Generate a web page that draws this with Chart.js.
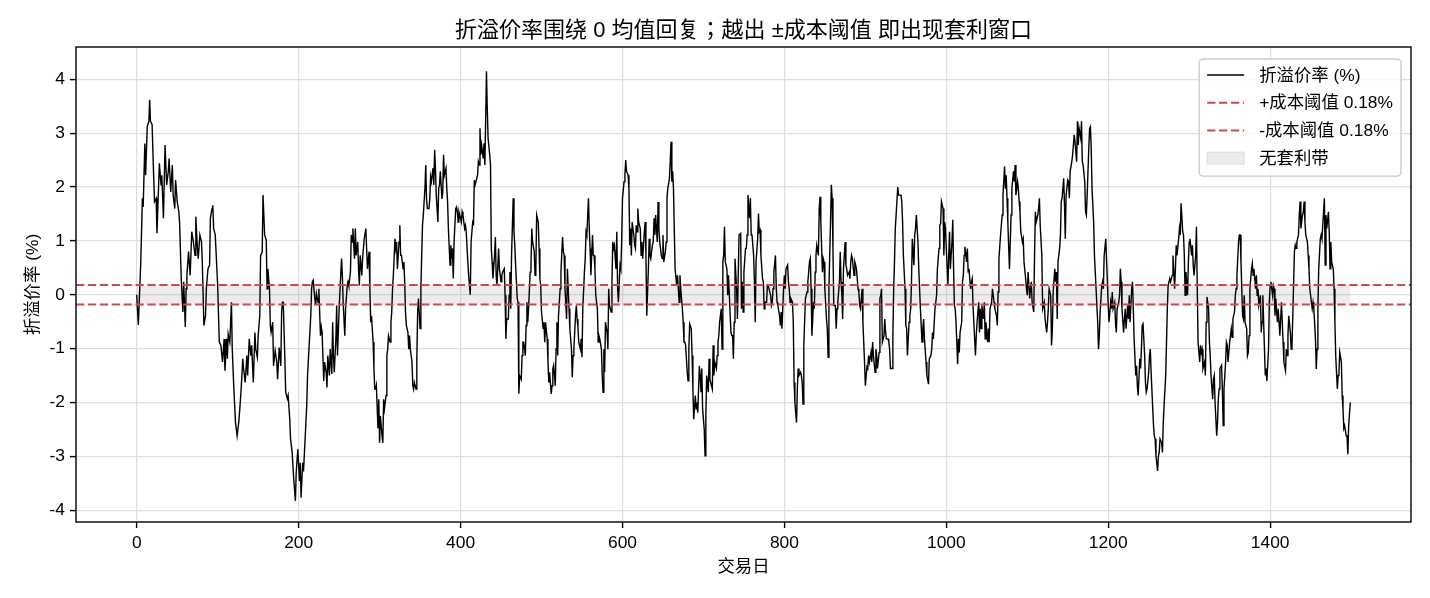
<!DOCTYPE html>
<html>
<head>
<meta charset="utf-8">
<script src="https://cdn.jsdelivr.net/npm/chart.js@4.4.1/dist/chart.umd.min.js"></script>
<style>
html,body{margin:0;padding:0;background:#fff;}
#wrap{width:1430px;height:598px;}
</style>
</head>
<body>
<div id="wrap"><canvas id="c" width="1430" height="598"></canvas></div>
<script>
// ---------- data ----------
const tradingDays = [
0,2,5,7,8,10,11,13,15,16,
17,19,21,22,24,25,28,30,31,33,
35,37,39,40,42,44,45,47,48,50,
52,53,55,57,58,60,61,62,64,66,
68,70,72,73,75,76,78,80,81,83,
85,86,88,90,91,93,94,95,97,100,
102,104,106,108,109,111,112,113,115,117,
118,120,122,124,126,127,129,
131,132,134,136,137,139,141,142,144,146,
147,149,150,152,153,155,156,158,160,161,
162,164,165,166,168,169,171,173,174,176,
178,179,180,181,183,184,186,187,189,190,
192,194,196,197,199,201,202,203,205,206,
208,210,211,213,215,216,217,218,220,221,
222,224,225,227,228,229,231,232,234,235,
236,238,239,241,242,243,244,246,247,248,
250,252,253,254,255,257,258,260,261,262,
264,265,266,267,
269,270,271,273,274,275,276,278,279,280,
281,283,284,285,287,288,289,290,292,293,
294,295,296,298,299,300,301,303,304,305,
306,308,309,310,311,313,314,315,316,317,
319,320,321,322,324,325,326,327,329,330,
331,332,333,335,336,337,338,340,341,342,
343,345,346,347,348,350,351,352,353,354,
356,357,358,359,361,362,363,364,366,367,
368,369,370,372,373,374,375,377,378,379,
380,382,383,384,385,387,388,389,390,391,
392,394,395,396,397,398,400,401,402,403,
405,406,
407,409,410,412,413,415,416,417,418,419,
421,422,423,424,425,426,428,429,430,431,
432,433,434,436,437,438,439,440,442,443,
444,445,447,448,449,450,451,452,454,455,
456,457,459,460,461,462,463,465,466,467,
468,470,471,472,473,475,476,477,478,480,
481,482,483,484,486,487,488,489,491,492,
493,494,496,497,498,499,500,502,503,504,
505,507,508,509,510,512,513,514,515,517,
518,519,520,521,523,524,526,527,528,529,
531,532,533,534,535,537,538,539,540,542,
543,544,
545,546,548,549,550,551,553,554,555,556,
558,559,560,561,563,564,565,566,567,569,
570,571,572,574,575,576,577,578,579,581,
582,583,584,586,587,588,589,590,592,593,
594,595,597,598,599,600,602,603,604,605,
607,608,609,610,611,612,614,615,616,617,
618,619,620,622,623,624,625,627,628,629,
630,632,633,634,635,637,638,639,640,641,
643,644,645,646,648,649,650,651,653,654,
655,656,658,659,660,661,662,663,664,665,
667,668,669,670,671,672,674,675,676,677,
678,680,681,682,
683,685,686,687,688,690,691,692,693,695,
696,697,698,699,701,702,703,704,706,707,
708,709,711,712,713,714,716,717,718,719,
720,722,723,724,725,726,727,729,730,731,
732,734,735,736,737,738,739,741,742,743,
744,746,747,748,749,750,752,753,754,755,
757,758,759,760,762,763,764,765,767,768,
769,770,771,773,774,775,776,778,779,780,
781,783,784,785,786,787,789,790,791,792,
794,795,796,797,799,800,801,802,804,805,
806,807,808,810,811,812,813,815,816,817,
818,820,821,
822,823,824,826,827,828,829,831,832,833,
834,836,837,838,839,840,842,843,844,845,
847,848,849,850,852,853,854,855,857,858,
859,860,861,863,864,865,866,868,869,870,
871,872,873,875,876,877,878,880,881,882,
883,884,886,887,888,889,891,892,893,894,
896,897,898,899,900,902,903,904,905,907,
908,909,910,912,913,914,915,917,918,919,
920,921,923,924,925,926,928,929,930,931,
933,934,935,936,937,939,940,941,942,944,
945,946,947,949,950,951,952,954,955,956,
957,958,
960,961,962,963,965,966,967,968,970,971,
972,973,975,976,977,978,979,981,982,983,
984,986,987,988,989,991,992,993,994,996,
997,998,999,1000,1002,1003,1004,1005,1007,1008,
1009,1010,1011,1012,1014,1015,1016,1017,1019,1020,
1021,1022,1023,1025,1026,1027,1028,1030,1031,1032,
1033,1035,1036,1037,1038,1040,1041,1042,1043,1044,
1046,1047,1048,1049,1051,1052,1053,1054,1056,1057,
1058,1059,1060,1062,1063,1064,1065,1067,1068,1069,
1070,1072,1073,1074,1075,1076,1078,1079,1080,1081,
1083,1084,1085,1086,1088,1089,1090,1091,1092,1094,
1095,1096,
1098,1099,1100,1101,1103,1104,1105,1106,1108,1109,
1110,1111,1113,1114,1115,1116,1118,1119,1120,1121,
1122,1124,1125,1126,1127,1129,1130,1131,1132,1134,
1135,1136,1137,1138,1140,1141,1142,1143,1145,1146,
1147,1148,1150,1151,1152,1153,1155,1156,1157,1158,
1159,1161,1162,1163,1164,1166,1167,1168,1169,1171,
1172,1173,1174,1176,1177,1178,1179,1180,1182,1183,
1184,1185,1187,1188,1189,1190,1192,1193,1194,1195,
1197,1198,1199,1200,1201,1203,1204,1205,1206,1208,
1209,1210,1211,1213,1214,1215,1216,1217,1219,1220,
1221,1222,1224,1225,1226,1227,1229,1230,1231,1232,
1234,1235,
1236,1237,1239,1240,1241,1242,1243,1245,1246,1247,
1248,1250,1251,1252,1253,1255,1256,1257,1258,1259,
1261,1262,1263,1264,1266,1267,1268,1269,1271,1272,
1273,1274,1276,1277,1278,1279,1280,1282,1283,1284,
1285,1287,1288,1289,1290,1292,1293,1294,1295,1296,
1298,1299,1300,1301,1303,1304,1305,1306,1308,1309,
1310,1311,1313,1314,1315,1316,1317,1319,1320,1321,
1322,1324,1325,1326,1327,1329,1330,1331,1332,1334,
1335,1336,1337,1338,1340,1341,1342,1343,1345,1346,
1347,1348,1350,1351,1352,1353,1354,1356,1357,1358,
1359,1361,1362,1363,1364,1366,1367,1368,1369,1371,
1372,1373,
1374,1375,1377,1378,1379,1380,1382,1383,1384,1385,
1386,1388,1389,1390,1391,1393,1394,1395,1396,1398,
1399,1400,1401,1403,1404,1405,1406,1407,1409,1410,
1411,1412,1414,1415,1416,1417,1419,1420,1421,1422,
1423,1425,1426,1427,1428,1430,1431,1432,1433,1435,
1436,1437,1438,1440,1441,1442,1443,1444,1446,1447,
1448,1449,1451,1452,1453,1454,1456,1457,1458,1459,
1460,1462,1463,1464,1465,1467,1468,1469,1470,1472,
1473,1474,1475,1476,1478,1479,1480,1481,1483,1484,
1485,1486,1488,1489,1490,1491,1492,1494,1495,1496,
1497,1499
];

const premiumPct = [
0.00,-0.56,0.61,1.79,1.63,2.81,2.22,3.12,3.22,3.62,
3.22,3.16,2.16,1.73,1.79,1.14,2.44,2.04,2.22,1.42,
2.78,2.04,2.29,2.53,1.91,2.41,1.85,1.60,2.13,1.73,
1.54,1.32,0.30,-0.32,0.24,-0.60,0.11,0.36,0.80,0.36,
1.17,0.98,0.73,1.45,0.86,0.67,1.11,0.98,0.61,-0.57,
-0.39,0.11,0.48,0.55,1.42,1.60,1.66,1.23,1.11,0.17,
-0.88,-0.94,-1.25,-0.82,-1.41,-0.82,-1.19,-0.73,-0.88,-0.14,
-1.01,-1.75,-2.37,-2.62,-2.37,-2.19,-1.75,
-1.19,-1.37,-1.63,-1.13,-1.50,-0.82,-1.13,-0.94,-1.63,-0.70,
-1.01,-1.16,-0.76,-0.39,0.73,0.79,1.85,1.11,1.01,0.11,
0.48,0.11,-0.57,-0.70,-0.51,-1.32,-1.04,-1.25,-1.57,-0.98,
-1.32,-0.32,-0.14,-0.14,-1.19,-1.81,-1.93,-1.87,-2.30,-2.68,
-2.93,-3.43,-3.83,-3.30,-2.87,-3.46,-3.12,-3.77,-3.12,-3.28,
-2.68,-2.06,-1.50,-0.94,-0.39,0.11,0.24,0.27,-0.07,-0.20,
0.02,-0.14,0.11,-0.76,-0.60,-0.70,-1.60,-1.25,-1.44,-1.72,
-1.13,-1.50,-1.01,-1.47,-0.51,-1.13,-1.44,-0.82,-0.20,-1.13,
-0.26,0.36,0.67,0.36,-0.14,-0.76,-0.26,0.17,0.24,0.17,
0.42,1.11,0.98,1.23,
0.67,1.23,0.73,0.98,0.48,0.17,0.73,0.36,0.67,0.86,
1.04,1.23,0.86,0.48,0.80,0.11,-0.51,-0.39,-0.88,-1.37,
-1.75,-1.75,-1.68,-2.48,-1.94,-2.75,-2.25,-2.62,-2.75,-1.94,
-2.12,-1.87,-1.13,-1.01,-0.76,-0.88,-0.51,-0.32,0.11,0.36,
1.04,0.86,0.98,0.48,0.98,1.29,0.73,0.73,0.48,0.61,
0.24,-0.32,-0.57,-0.70,-1.01,-0.76,-1.01,-1.25,-1.68,-1.75,
-1.63,-1.75,-1.19,-0.32,-0.07,-0.63,0.11,0.73,1.29,1.48,
1.97,2.41,1.78,1.60,1.60,1.78,2.19,2.10,2.35,2.04,
2.69,2.35,1.85,1.35,1.97,2.04,2.29,1.78,1.91,2.60,
2.22,2.35,1.97,1.72,1.22,0.55,0.92,0.67,0.86,0.30,
0.98,1.60,1.63,1.54,1.35,1.54,1.42,1.35,1.54,1.48,
1.23,1.29,
1.17,0.61,0.36,0.00,0.98,1.35,1.32,2.13,2.04,2.04,
2.22,2.47,2.41,3.09,2.60,2.78,2.53,2.81,2.41,3.22,
4.15,3.47,2.91,2.60,2.41,0.86,0.61,0.30,0.73,1.07,
0.36,0.17,0.86,0.48,0.36,0.24,0.36,0.42,0.48,-0.01,
-0.82,-0.45,-0.45,-0.01,0.42,-0.26,0.73,1.79,1.17,0.92,
0.55,-0.07,-0.14,-1.84,-1.50,-1.57,-1.13,-0.88,-0.88,-1.13,
-0.57,-0.14,-0.51,-0.26,0.42,0.55,1.23,0.98,0.80,0.36,
0.48,1.48,1.35,0.86,0.30,0.17,-0.32,-0.63,-0.51,-0.88,
-0.51,-0.82,-1.25,-1.63,-1.44,-1.84,-1.69,-1.37,-1.31,-1.69,
-1.00,-0.51,-1.13,-0.39,0.11,0.42,1.07,0.80,0.73,0.11,
-0.45,0.48,0.11,-0.26,-0.63,-1.00,-1.53,-1.13,-1.00,-0.39,
-0.20,-0.45,
-0.60,-0.88,-1.01,-0.82,-1.16,-0.26,0.42,0.67,1.17,1.11,
1.79,1.23,0.86,0.36,1.11,0.73,0.73,0.48,-0.01,-0.26,
-0.88,-0.76,-0.82,-1.01,-1.50,-1.81,-1.01,-1.44,-0.51,-0.70,
-1.01,0.11,-0.20,-0.32,0.24,0.98,0.86,0.92,0.48,1.17,
0.11,-0.14,0.55,0.48,0.98,1.79,2.10,2.22,2.50,2.29,
2.22,1.97,0.92,1.23,0.73,1.35,1.11,0.92,0.86,1.29,
1.17,1.60,1.35,1.23,0.73,0.98,0.67,1.17,1.35,0.73,
-0.39,0.48,1.04,0.73,0.67,0.92,0.98,1.42,1.11,1.48,
0.98,1.72,1.23,0.98,0.73,0.67,1.11,0.61,0.80,0.98,
1.79,1.97,2.16,2.47,2.84,2.10,2.29,1.97,1.22,0.48,
0.17,0.36,0.11,-0.14,0.36,0.11,-0.26,-0.51,-0.88,-0.88,
-0.94,-1.44,-1.60,-1.01,
-0.54,-0.63,-1.13,-1.75,-2.31,-1.87,-2.12,-2.00,-2.19,-1.32,
-1.50,-1.81,-1.37,-2.12,-2.50,-2.99,-2.24,-1.50,-1.81,-1.19,
-1.57,-1.63,-1.75,-0.94,-1.50,-1.25,-1.37,-1.13,-0.88,-0.76,
-0.51,-0.26,-1.01,0.61,0.73,1.26,0.61,0.48,-0.01,0.36,
-0.01,-0.70,-0.76,-0.76,-1.19,-0.51,0.67,0.11,-0.45,0.36,
1.11,1.14,-0.26,0.24,-0.32,0.42,0.86,0.86,1.11,1.85,
1.42,1.79,1.11,1.11,0.73,0.24,-0.51,0.61,1.04,1.51,
1.17,1.20,0.73,0.30,0.24,-0.26,-0.14,-0.14,0.17,0.17,
0.11,-0.01,-0.20,-0.14,0.11,0.42,0.73,0.11,-0.14,-0.20,
-0.39,-0.57,-0.32,-0.63,0.11,0.36,0.11,0.48,0.55,0.24,
0.11,-0.14,-0.07,-0.14,-0.51,-1.63,-2.00,-2.37,-1.75,-1.37,
-1.50,-1.44,-1.50,
-1.63,-2.03,-0.94,-0.07,-0.01,0.05,0.24,0.61,0.67,0.11,
-0.76,-0.14,-0.26,0.42,0.73,0.92,0.73,1.60,1.82,1.35,
0.42,0.67,0.61,0.11,-0.45,-0.63,-1.16,0.11,1.35,2.04,
1.79,0.86,-0.20,-0.20,-0.63,-0.26,-0.14,0.24,0.80,0.24,
-0.01,-0.45,0.48,0.98,0.55,0.48,0.36,0.42,0.30,0.61,
0.73,0.67,0.36,0.61,0.55,0.48,0.11,0.05,-0.20,-0.26,
0.11,-0.51,-0.88,-1.25,-1.69,-1.34,-1.37,-1.13,-1.25,-1.07,
-1.25,-0.88,-1.13,-1.44,-1.01,-1.13,-1.37,-1.07,-0.07,-0.01,
0.11,-0.88,-0.76,-0.45,-0.70,-0.82,-0.82,-0.88,-1.01,-1.37,
-1.37,-0.76,0.11,0.61,1.23,1.73,2.00,1.85,1.85,1.85,
1.73,1.35,0.73,0.11,-0.57,-0.63,-1.13,-0.51,-0.39,-0.26,
0.24,1.04,
0.55,1.11,1.23,1.48,0.98,0.48,0.11,-0.26,-0.88,-0.63,
-0.45,-0.82,-1.25,-1.50,-1.57,-1.66,-1.19,-1.13,-1.01,-0.70,
-0.82,-0.26,-0.14,-0.01,0.48,0.86,1.29,1.32,1.73,1.60,
0.73,1.35,1.23,0.86,0.17,0.73,1.17,0.48,0.98,1.39,
0.48,-0.20,-0.26,-0.51,-1.29,-0.82,-1.07,-0.70,-0.51,0.24,
0.36,0.73,0.89,0.61,0.86,0.42,0.48,0.11,0.24,0.30,
-0.20,-0.82,-1.13,-0.76,-0.51,-0.14,-0.70,-0.26,-0.63,-0.20,
-0.45,-0.14,-0.82,-0.51,-0.88,-0.63,-0.88,-0.26,-0.14,0.11,
-0.01,-0.14,-0.26,-0.39,-0.57,0.05,0.67,1.11,1.29,1.48,
1.85,2.38,1.97,2.22,1.79,1.35,0.48,0.98,1.48,1.97,
2.29,2.10,2.41,1.85,2.10,1.97,1.73,1.54,1.17,0.98,
1.04,0.61,
0.30,0.11,-0.01,0.42,-0.07,0.11,0.24,-0.14,-0.32,0.73,
1.54,1.35,1.48,1.60,1.79,1.29,0.73,-0.26,-0.20,-0.14,
-0.45,-0.70,-0.51,-0.26,0.11,-0.01,-0.94,-0.63,0.05,0.48,
0.24,0.42,-0.45,0.61,0.86,1.11,1.73,1.79,2.16,1.66,
1.04,1.85,2.13,2.10,1.79,2.29,2.47,2.60,2.78,2.97,
2.84,2.47,3.22,2.78,3.09,2.91,3.22,2.47,2.41,2.10,
1.54,1.48,1.85,2.72,3.09,3.12,2.72,1.97,1.35,0.73,
0.42,0.11,-0.51,-1.01,-0.76,-0.32,0.17,0.24,0.11,0.73,
1.04,0.61,0.24,-0.20,-0.51,-0.14,-0.26,0.05,-0.26,-0.14,
-0.51,-0.70,-0.26,-0.14,-0.01,0.48,0.24,-0.26,-0.70,-0.45,
-0.26,-0.63,-0.20,-0.45,-0.01,-0.51,0.11,0.24,-0.26,-0.82,
-1.50,-1.32,
-1.70,-1.87,-1.19,-1.37,-1.01,-0.57,-0.54,-1.13,-1.63,-1.81,
-1.75,-1.44,-1.13,-1.01,-1.44,-2.12,-2.44,-2.62,-2.68,-2.99,
-3.27,-2.99,-2.93,-2.68,-2.75,-2.93,-2.37,-2.06,-1.50,-0.88,
-0.26,0.17,0.30,0.24,0.30,0.36,0.73,0.11,0.48,0.92,
0.73,1.04,1.23,1.11,1.70,1.17,1.11,0.73,-0.01,0.42,
-0.01,0.61,0.98,1.04,0.73,0.92,0.55,0.36,0.73,1.26,
0.11,-0.88,-1.25,-0.94,-1.07,-1.01,-1.37,-1.25,-1.50,-0.51,
-0.04,-0.26,-0.88,-1.13,-1.50,-1.94,-1.57,-1.50,-2.00,-2.62,
-2.37,-1.94,-1.75,-1.37,-1.31,-1.75,-2.43,-1.75,-1.25,-0.88,
-0.94,-1.25,-0.88,-0.76,-0.63,-0.79,-0.45,-0.32,-0.01,0.11,
0.36,0.98,1.11,1.11,0.61,-0.39,-0.45,-0.01,-0.51,-0.63,
-1.13,-1.07,
-0.76,0.11,0.48,0.58,0.36,0.48,0.11,0.36,-0.01,0.11,
-0.20,-0.01,-0.70,-0.51,-0.01,-1.01,-1.50,-1.37,-1.60,-1.01,
-0.14,0.17,0.24,-0.01,0.17,0.11,-0.39,-0.07,-0.51,-0.26,
-0.51,-0.76,-0.14,-0.51,-0.88,-1.25,-1.41,-1.01,-1.13,-0.76,
-0.39,-0.70,-1.01,-0.94,-0.39,0.80,0.92,0.86,0.98,1.11,
1.48,1.73,1.23,1.48,1.54,1.73,1.35,1.11,0.98,0.73,
0.48,0.11,-0.14,-0.26,-0.14,-0.26,-0.82,-1.38,-1.01,-0.26,
0.48,1.04,1.11,1.04,1.29,1.79,0.55,1.48,1.23,1.54,
1.17,0.48,0.98,0.61,0.48,0.11,-0.51,-1.13,-1.75,-1.50,
-1.44,-1.07,-1.25,-1.87,-2.12,-2.48,-2.43,-2.62,-2.62,-2.96,
-2.43,-2.00
];

const costThreshold = 0.18;
const xTickValues = [0, 200, 400, 600, 800, 1000, 1200, 1400];
const yTickValues = [-4, -3, -2, -1, 0, 1, 2, 3, 4];

const chartTitle = '折溢价率围绕 0 均值回复；越出 ±成本阈值 即出现套利窗口';
const xAxisTitle = '交易日';
const yAxisTitle = '折溢价率 (%)';
const seriesLabel = '折溢价率 (%)';
const upperLabel = '+成本阈值 0.18%';
const lowerLabel = '-成本阈值 0.18%';
const bandLabel = '无套利带';

// ---------- chart ----------
const FONT = '"Liberation Sans", Arial, "Noto Sans CJK SC", sans-serif';
const TITLE_FONT = '"Liberation Sans", Arial, "Noto Sans CJK JP", "Noto Sans CJK SC", sans-serif';
const FS = 17.4;
Chart.defaults.font.family = FONT;
Chart.defaults.font.size = FS;
Chart.defaults.color = '#000';

const X_MIN = -75, X_MAX = 1574, Y_MIN = -4.22, Y_MAX = 4.6;
const n = Math.min(tradingDays.length, premiumPct.length);
const lineData = [];
for (let i = 0; i < n; i++) lineData.push({x: tradingDays[i], y: premiumPct[i]});
const firstDay = tradingDays[0], lastDay = tradingDays[n - 1];
const RED = '#cb4a52';
const BAND = 'rgba(128,128,128,0.15)';

const frameAndLegend = {
  id: 'frameAndLegend',
  afterDraw(chart) {
    const {ctx, chartArea: a} = chart;
    ctx.save();
    // spines
    ctx.strokeStyle = '#000';
    ctx.lineWidth = 1.4;
    ctx.strokeRect(a.left, a.top, a.right - a.left, a.bottom - a.top);
    // legend
    ctx.font = FS + 'px ' + FONT;
    const ds = chart.data.datasets;
    const textW = Math.max(...ds.map(d => ctx.measureText(d.label).width));
    const padX = 8, handleLen = 37, gap = 15, rowH = 27.7;
    const boxW = padX + handleLen + gap + textW + padX;
    const boxH = rowH * (ds.length - 1) + 34;
    const bx = a.right - 10 - boxW, by = a.top + 12;
    const r = 4;
    ctx.beginPath();
    ctx.moveTo(bx + r, by);
    ctx.arcTo(bx + boxW, by, bx + boxW, by + boxH, r);
    ctx.arcTo(bx + boxW, by + boxH, bx, by + boxH, r);
    ctx.arcTo(bx, by + boxH, bx, by, r);
    ctx.arcTo(bx, by, bx + boxW, by, r);
    ctx.closePath();
    ctx.fillStyle = 'rgba(255,255,255,0.8)';
    ctx.fill();
    ctx.strokeStyle = '#cccccc';
    ctx.lineWidth = 1.4;
    ctx.stroke();
    ds.forEach((d, i) => {
      const cy = by + 16 + i * rowH;
      const hx = bx + padX;
      if (d.isBand) {
        ctx.fillStyle = d.backgroundColor;
        ctx.fillRect(hx, cy - 6, handleLen, 12);
        ctx.strokeStyle = 'rgba(128,128,128,0.15)';
        ctx.lineWidth = 1.4;
        ctx.strokeRect(hx, cy - 6, handleLen, 12);
      } else {
        ctx.beginPath();
        ctx.setLineDash(d.borderDash || []);
        ctx.strokeStyle = d.borderColor;
        ctx.lineWidth = d.borderWidth;
        ctx.moveTo(hx, cy);
        ctx.lineTo(hx + handleLen, cy);
        ctx.stroke();
        ctx.setLineDash([]);
      }
      ctx.fillStyle = '#000';
      ctx.textBaseline = 'middle';
      ctx.textAlign = 'left';
      ctx.fillText(d.label, hx + handleLen + gap, cy + 1);
    });
    ctx.restore();
  }
};

new Chart(document.getElementById('c').getContext('2d'), {
  type: 'line',
  data: {
    datasets: [
      {label: seriesLabel, data: lineData, borderColor: '#000', borderWidth: 1.4,
       pointRadius: 0, tension: 0, fill: false, order: 1},
      {label: upperLabel, data: [{x: X_MIN, y: costThreshold}, {x: X_MAX, y: costThreshold}],
       borderColor: RED, borderWidth: 2, borderDash: [8.3, 3.6], pointRadius: 0, fill: false, order: 0},
      {label: lowerLabel, data: [{x: X_MIN, y: -costThreshold}, {x: X_MAX, y: -costThreshold}],
       borderColor: RED, borderWidth: 2, borderDash: [8.3, 3.6], pointRadius: 0, fill: false, order: 0},
      {label: bandLabel, isBand: true, data: [{x: firstDay, y: costThreshold}, {x: lastDay, y: costThreshold}],
       borderWidth: 0, borderColor: 'rgba(0,0,0,0)', pointRadius: 0, backgroundColor: BAND,
       fill: {value: -costThreshold}, order: 3}
    ]
  },
  options: {
    responsive: false,
    animation: false,
    devicePixelRatio: 1,
    layout: {padding: {left: 0, right: 19, top: 0, bottom: 0}},
    plugins: {
      legend: {display: false},
      tooltip: {enabled: false},
      title: {display: true, text: chartTitle, fullSize: false, color: '#000',
              font: {family: TITLE_FONT, size: 22, weight: 'normal'}, padding: {top: 17.3, bottom: 3.3}}
    },
    scales: {
      x: {
        type: 'linear', min: X_MIN, max: X_MAX,
        afterBuildTicks: s => { s.ticks = xTickValues.map(v => ({value: v})); },
        afterFit: s => { s.height = 76; },
        ticks: {padding: 5, autoSkip: false, maxRotation: 0, color: '#000', callback: v => String(v)},
        grid: {color: '#dedede', lineWidth: 1.2, tickLength: 6, tickColor: '#000', tickWidth: 1.4},
        border: {display: false},
        title: {display: true, text: xAxisTitle, color: '#000', font: {size: FS}, padding: {top: 0, bottom: 20.5}}
      },
      y: {
        type: 'linear', min: Y_MIN, max: Y_MAX,
        afterBuildTicks: s => { s.ticks = yTickValues.map(v => ({value: v})); },
        afterFit: s => { s.width = 76; },
        ticks: {padding: 5, autoSkip: false, color: '#000', callback: v => String(v)},
        grid: {color: '#dedede', lineWidth: 1.2, tickLength: 6, tickColor: '#000', tickWidth: 1.4},
        border: {display: false},
        title: {display: true, text: yAxisTitle, color: '#000', font: {size: FS}, padding: {top: 22.5, bottom: 0}}
      }
    }
  },
  plugins: [frameAndLegend]
});
</script>
</body>
</html>
